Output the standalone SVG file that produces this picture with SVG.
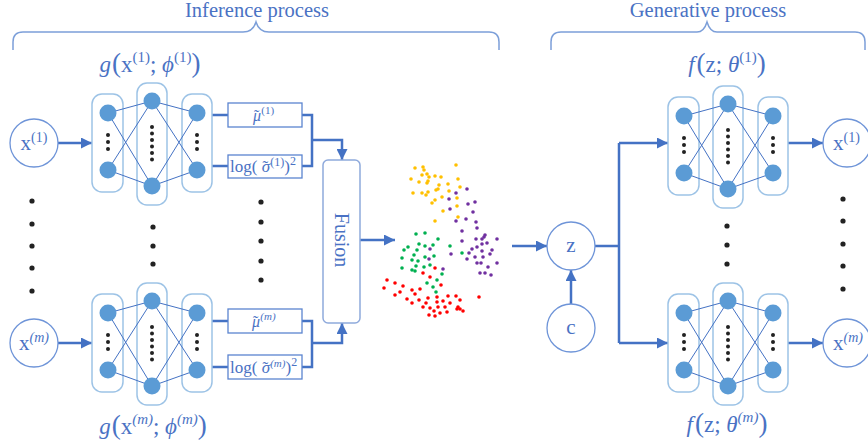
<svg xmlns="http://www.w3.org/2000/svg" xmlns:xlink="http://www.w3.org/1999/xlink" width="868" height="447" viewBox="0 0 868 447">
<style>
text{font-family:"Liberation Serif","DejaVu Serif",serif;fill:#4A72C4}
.col{fill:#fff;stroke:#9DC3E6;stroke-width:1.5}
.nd{fill:#5B9BD5}
.ln{stroke:#4472C4;stroke-width:1;fill:none}
.dot{fill:#222}
.conn{stroke:#4472C4;stroke-width:2.5;fill:none}
.box{fill:#fff;stroke:#5B84D0;stroke-width:1.3}
.circ{fill:#fff;stroke:#6E94D8;stroke-width:1.3}
.brace{fill:none;stroke:#7C9FD9;stroke-width:1.5}
.o{fill:#FFC000}.p{fill:#7030A0}.g{fill:#00B050}.r{fill:#FF0000}
.lbl{font-size:23px}
.par{font-size:27px}
.sup{font-size:15px}
</style>
<defs>
<marker id="ah" viewBox="0 0 10 10" refX="10" refY="5" markerWidth="11" markerHeight="11" orient="auto" markerUnits="userSpaceOnUse"><path d="M0,0 L10,5 L0,10 z" fill="#4472C4"/></marker>
<g id="net">
<rect class="col" x="92" y="94" width="31" height="98" rx="10"/>
<rect class="col" x="137" y="83" width="30" height="122" rx="10"/>
<rect class="col" x="182" y="94" width="30" height="98" rx="10"/>
<path class="ln" d="M108,113L152,101M108,113L152,186M108,170L152,101M108,170L152,186M152,101L197,113M152,101L197,170M152,186L197,113M152,186L197,170"/>
<circle class="nd" cx="108" cy="113" r="8.5"/><circle class="nd" cx="108" cy="170" r="8.5"/>
<circle class="nd" cx="152" cy="101" r="8.5"/><circle class="nd" cx="152" cy="186" r="8.5"/>
<circle class="nd" cx="197" cy="113" r="8.5"/><circle class="nd" cx="197" cy="170" r="8.5"/>
<g class="dot">
<circle cx="108" cy="135" r="2"/><circle cx="108" cy="142" r="2"/><circle cx="108" cy="149" r="2"/>
<circle cx="197" cy="135" r="2"/><circle cx="197" cy="142" r="2"/><circle cx="197" cy="149" r="2"/>
<circle cx="152" cy="127" r="2"/><circle cx="152" cy="133.5" r="2"/><circle cx="152" cy="140" r="2"/><circle cx="152" cy="146.5" r="2"/><circle cx="152" cy="153" r="2"/><circle cx="152" cy="159.5" r="2"/>
</g>
</g>
</defs>

<g id="braces">
<path class="brace" d="M13,50 V42 Q13,32 23,32 H243 Q253,32 256,22 Q259,32 269,32 H489 Q499,32 499,42 V50"/>
<path class="brace" d="M551,50 V42 Q551,32 561,32 H697 Q704,32 707,22 Q710,32 717,32 H855 Q865,32 865,42 V50"/>
<text x="257" y="17" text-anchor="middle" font-size="20.5">Inference process</text>
<text x="708" y="17" text-anchor="middle" font-size="20.5">Generative process</text>
</g>

<g id="connectors">
<path class="conn" d="M58,143 H92" marker-end="url(#ah)"/>
<path class="conn" d="M58,343 H92" marker-end="url(#ah)"/>
<path class="conn" d="M212,115 H228 M212,166 H228 M302,115 H312 V166 H302"/>
<path class="conn" d="M312,140 H342 V160" marker-end="url(#ah)"/>
<path class="conn" d="M212,321 H228 M212,367 H228 M302,321 H312 V367 H302"/>
<path class="conn" d="M312,343 H342 V323" marker-end="url(#ah)"/>
<path class="conn" d="M360,240 H395" marker-end="url(#ah)"/>
<path class="conn" d="M512,246 H547" marker-end="url(#ah)"/>
<path class="conn" d="M571,304 V270" marker-end="url(#ah)"/>
<path class="conn" d="M595,246 H619 M619,143 V343"/>
<path class="conn" d="M619,143 H668" marker-end="url(#ah)"/>
<path class="conn" d="M619,343 H668" marker-end="url(#ah)"/>
<path class="conn" d="M787,143 H823" marker-end="url(#ah)"/>
<path class="conn" d="M787,343 H823" marker-end="url(#ah)"/>
</g>

<g id="x1">
<circle class="circ" cx="34" cy="143" r="24"/>
<text x="34" y="150" text-anchor="middle" font-size="21">x<tspan font-size="14" dy="-8">(1)</tspan></text>
</g>
<g id="xm">
<circle class="circ" cx="34" cy="343" r="24"/>
<text x="34" y="350" text-anchor="middle" font-size="21">x<tspan font-size="14" dy="-8" font-style="italic">(m)</tspan></text>
</g>

<g id="enc1">
<use xlink:href="#net"/>
<text x="150" y="72" text-anchor="middle" class="lbl"><tspan font-style="italic">g</tspan><tspan class="par" dx="1">(</tspan>x<tspan class="sup" dy="-10">(1)</tspan><tspan dy="10">; </tspan><tspan font-style="italic">ϕ</tspan><tspan class="sup" dy="-10">(1)</tspan><tspan class="par" dy="10">)</tspan></text>
</g>
<g id="enc2">
<use xlink:href="#net" transform="translate(0,200)"/>
<text x="153" y="434" text-anchor="middle" class="lbl"><tspan font-style="italic">g</tspan><tspan class="par" dx="1">(</tspan>x<tspan class="sup" dy="-10" font-style="italic">(m)</tspan><tspan dy="10">; </tspan><tspan font-style="italic">ϕ</tspan><tspan class="sup" dy="-10" font-style="italic">(m)</tspan><tspan class="par" dy="10">)</tspan></text>
</g>

<g id="mu1">
<rect class="box" x="228" y="103" width="74" height="24"/>
<text x="253" y="121" font-size="16"><tspan font-style="italic">μ</tspan><tspan dx="-7">˜</tspan><tspan font-size="11" dx="2" dy="-7">(1)</tspan></text>
</g>
<g id="sig1">
<rect class="box" x="228" y="155" width="74" height="23"/>
<text x="230" y="172" font-size="17">log( <tspan font-style="italic">σ</tspan><tspan dx="-7.5">˜</tspan><tspan font-size="12" dx="2" dy="-6">(1)</tspan><tspan dy="6">)</tspan><tspan font-size="12" dy="-7">2</tspan></text>
</g>
<g id="mum">
<rect class="box" x="228" y="309" width="74" height="24"/>
<text x="252" y="327" font-size="16"><tspan font-style="italic">μ</tspan><tspan dx="-7">˜</tspan><tspan font-size="11" dx="2" dy="-7" font-style="italic">(m)</tspan></text>
</g>
<g id="sigm">
<rect class="box" x="228" y="355" width="74" height="24"/>
<text x="230" y="373" font-size="17">log( <tspan font-style="italic">σ</tspan><tspan dx="-7.5">˜</tspan><tspan font-size="11" dx="2" dy="-6" font-style="italic">(m)</tspan><tspan dy="6">)</tspan><tspan font-size="12" dy="-7">2</tspan></text>
</g>

<g id="fusion">
<rect x="323" y="160" width="37" height="163" rx="5" fill="#fff" stroke="#8FAADC" stroke-width="1.5"/>
<text transform="translate(341,240) rotate(90)" text-anchor="middle" dy="6" font-size="20">Fusion</text>
</g>

<g id="vdots" class="dot">
<circle cx="32" cy="201" r="2.6"/><circle cx="32" cy="224" r="2.6"/><circle cx="32" cy="246" r="2.6"/><circle cx="32" cy="268" r="2.6"/><circle cx="32" cy="291" r="2.6"/>
<circle cx="153" cy="227" r="2.6"/><circle cx="153" cy="246" r="2.6"/><circle cx="153" cy="264" r="2.6"/>
<circle cx="261" cy="202" r="2.6"/><circle cx="261" cy="222" r="2.6"/><circle cx="261" cy="241" r="2.6"/><circle cx="261" cy="261" r="2.6"/><circle cx="261" cy="280" r="2.6"/>
<circle cx="727" cy="226" r="2.6"/><circle cx="727" cy="245" r="2.6"/><circle cx="727" cy="264" r="2.6"/>
<circle cx="843" cy="199" r="2.6"/><circle cx="843" cy="221" r="2.6"/><circle cx="843" cy="244" r="2.6"/><circle cx="843" cy="266" r="2.6"/><circle cx="843" cy="289" r="2.6"/>
</g>

<g id="scatter">
<g class="o">
<circle cx="415" cy="168" r="1.8"/><circle cx="423" cy="167" r="1.8"/><circle cx="424" cy="170" r="1.8"/><circle cx="456" cy="165" r="1.8"/><circle cx="422" cy="175" r="1.8"/><circle cx="427" cy="174" r="1.8"/><circle cx="429" cy="177" r="1.8"/><circle cx="435" cy="176" r="1.8"/><circle cx="441" cy="177" r="1.8"/><circle cx="411" cy="179" r="1.8"/><circle cx="419" cy="182" r="1.8"/><circle cx="428" cy="181" r="1.8"/><circle cx="427" cy="183" r="1.8"/><circle cx="448" cy="184" r="1.8"/><circle cx="458" cy="179" r="1.8"/><circle cx="439" cy="185" r="1.8"/><circle cx="460" cy="187" r="1.8"/><circle cx="436" cy="190" r="1.8"/><circle cx="438" cy="189" r="1.8"/><circle cx="449" cy="191" r="1.8"/><circle cx="413" cy="193" r="1.8"/><circle cx="422" cy="193" r="1.8"/><circle cx="426" cy="195" r="1.8"/><circle cx="428" cy="192" r="1.8"/><circle cx="442" cy="197" r="1.8"/><circle cx="457" cy="198" r="1.8"/><circle cx="435" cy="200" r="1.8"/><circle cx="432" cy="203" r="1.8"/><circle cx="457" cy="206" r="1.8"/><circle cx="443" cy="211" r="1.8"/><circle cx="458" cy="217" r="1.8"/><circle cx="435" cy="221" r="1.8"/>
</g>
<g class="p">
<circle cx="467" cy="189" r="1.8"/><circle cx="456" cy="193" r="1.8"/><circle cx="449" cy="199" r="1.8"/><circle cx="468" cy="204" r="1.8"/><circle cx="475" cy="202" r="1.8"/><circle cx="450" cy="209" r="1.8"/><circle cx="473" cy="212" r="1.8"/><circle cx="456" cy="221" r="1.8"/><circle cx="466" cy="219" r="1.8"/><circle cx="476" cy="222" r="1.8"/><circle cx="477" cy="228" r="1.8"/><circle cx="462" cy="231" r="1.8"/><circle cx="485" cy="235" r="1.8"/><circle cx="484" cy="237" r="1.8"/><circle cx="482" cy="239" r="1.8"/><circle cx="476" cy="239" r="1.8"/><circle cx="462" cy="241" r="1.8"/><circle cx="497" cy="239" r="1.8"/><circle cx="487" cy="243" r="1.8"/><circle cx="482" cy="244" r="1.8"/><circle cx="477" cy="247" r="1.8"/><circle cx="472" cy="249" r="1.8"/><circle cx="492" cy="250" r="1.8"/><circle cx="469" cy="253" r="1.8"/><circle cx="482" cy="251" r="1.8"/><circle cx="490" cy="254" r="1.8"/><circle cx="475" cy="257" r="1.8"/><circle cx="483" cy="257" r="1.8"/><circle cx="467" cy="259" r="1.8"/><circle cx="430" cy="249" r="1.8"/><circle cx="451" cy="254" r="1.8"/><circle cx="429" cy="259" r="1.8"/><circle cx="477" cy="263" r="1.8"/><circle cx="481" cy="263" r="1.8"/><circle cx="488" cy="267" r="1.8"/><circle cx="497" cy="263" r="1.8"/><circle cx="480" cy="273" r="1.8"/><circle cx="485" cy="273" r="1.8"/><circle cx="491" cy="275" r="1.8"/><circle cx="443" cy="269" r="1.8"/>
</g>
<g class="g">
<circle cx="416" cy="234" r="1.8"/><circle cx="425" cy="233" r="1.8"/><circle cx="438" cy="239" r="1.8"/><circle cx="419" cy="244" r="1.8"/><circle cx="425" cy="246" r="1.8"/><circle cx="433" cy="245" r="1.8"/><circle cx="408" cy="247" r="1.8"/><circle cx="404" cy="250" r="1.8"/><circle cx="417" cy="250" r="1.8"/><circle cx="450" cy="246" r="1.8"/><circle cx="414" cy="255" r="1.8"/><circle cx="425" cy="257" r="1.8"/><circle cx="434" cy="256" r="1.8"/><circle cx="402" cy="258" r="1.8"/><circle cx="412" cy="260" r="1.8"/><circle cx="418" cy="261" r="1.8"/><circle cx="462" cy="253" r="1.8"/><circle cx="416" cy="266" r="1.8"/><circle cx="424" cy="267" r="1.8"/><circle cx="430" cy="265" r="1.8"/><circle cx="402" cy="268" r="1.8"/><circle cx="412" cy="270" r="1.8"/><circle cx="415" cy="271" r="1.8"/><circle cx="442" cy="274" r="1.8"/><circle cx="437" cy="280" r="1.8"/><circle cx="427" cy="283" r="1.8"/><circle cx="433" cy="287" r="1.8"/><circle cx="436" cy="292" r="1.8"/>
</g>
<g class="r">
<circle cx="435" cy="268" r="1.8"/><circle cx="423" cy="273" r="1.8"/><circle cx="430" cy="277" r="1.8"/><circle cx="387" cy="280" r="1.8"/><circle cx="395" cy="283" r="1.8"/><circle cx="384" cy="288" r="1.8"/><circle cx="403" cy="286" r="1.8"/><circle cx="412" cy="290" r="1.8"/><circle cx="420" cy="289" r="1.8"/><circle cx="441" cy="285" r="1.8"/><circle cx="400" cy="292" r="1.8"/><circle cx="395" cy="295" r="1.8"/><circle cx="415" cy="294" r="1.8"/><circle cx="437" cy="297" r="1.8"/><circle cx="448" cy="296" r="1.8"/><circle cx="456" cy="296" r="1.8"/><circle cx="407" cy="299" r="1.8"/><circle cx="412" cy="303" r="1.8"/><circle cx="419" cy="300" r="1.8"/><circle cx="428" cy="298" r="1.8"/><circle cx="437" cy="302" r="1.8"/><circle cx="443" cy="301" r="1.8"/><circle cx="450" cy="303" r="1.8"/><circle cx="460" cy="300" r="1.8"/><circle cx="479" cy="297" r="1.8"/><circle cx="426" cy="303" r="1.8"/><circle cx="423" cy="307" r="1.8"/><circle cx="430" cy="308" r="1.8"/><circle cx="438" cy="307" r="1.8"/><circle cx="445" cy="307" r="1.8"/><circle cx="458" cy="307" r="1.8"/><circle cx="460" cy="309" r="1.8"/><circle cx="434" cy="311" r="1.8"/><circle cx="440" cy="313" r="1.8"/><circle cx="447" cy="312" r="1.8"/><circle cx="457" cy="309" r="1.8"/><circle cx="463" cy="311" r="1.8"/><circle cx="429" cy="315" r="1.8"/><circle cx="435" cy="316" r="1.8"/>
</g>
</g>

<g id="z">
<circle class="circ" cx="571" cy="246" r="24"/>
<text x="571" y="252" text-anchor="middle" font-size="21">z</text>
</g>
<g id="c">
<circle class="circ" cx="571" cy="328" r="24"/>
<text x="571" y="334" text-anchor="middle" font-size="21">c</text>
</g>

<g id="dec1">
<use xlink:href="#net" transform="translate(576,3)"/>
<text x="727" y="72" text-anchor="middle" class="lbl"><tspan font-style="italic">f</tspan><tspan class="par" dx="2">(</tspan>z; <tspan font-style="italic">θ</tspan><tspan class="sup" dy="-10">(1)</tspan><tspan class="par" dy="10">)</tspan></text>
</g>
<g id="dec2">
<use xlink:href="#net" transform="translate(576,200)"/>
<text x="727" y="432" text-anchor="middle" class="lbl"><tspan font-style="italic">f</tspan><tspan class="par" dx="2">(</tspan>z; <tspan font-style="italic">θ</tspan><tspan class="sup" dy="-10" font-style="italic">(m)</tspan><tspan class="par" dy="10">)</tspan></text>
</g>

<g id="y1">
<circle class="circ" cx="847" cy="143" r="24"/>
<text x="833" y="150" font-size="21">x<tspan font-size="14" dy="-8">(1)</tspan></text>
</g>
<g id="ym">
<circle class="circ" cx="847" cy="343" r="24"/>
<text x="833" y="350" font-size="21">x<tspan font-size="14" dy="-8" font-style="italic">(m)</tspan></text>
</g>
</svg>
